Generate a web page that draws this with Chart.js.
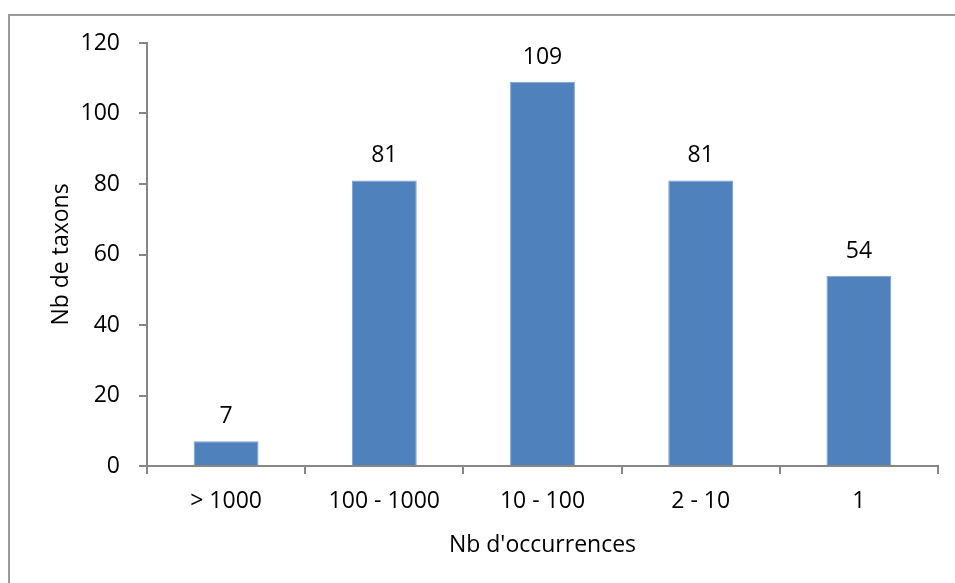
<!DOCTYPE html>
<html>
<head>
<meta charset="utf-8">
<script src="https://cdn.jsdelivr.net/npm/chart.js@4/dist/chart.umd.min.js"></script>
<style>
  html, body { margin: 0; padding: 0; background: #fff; overflow: hidden; }
  #frame {
    position: absolute; left: 8px; top: 14px; width: 1000px; height: 700px;
    border-top: 2px solid #9a9a9a; border-left: 2px solid #9a9a9a;
  }
  #wrap { position: absolute; left: 0; top: 0; width: 955px; height: 583px; }
</style>
</head>
<body>
<div id="frame"></div>
<div id="wrap"><canvas id="occChart" width="955" height="583"></canvas></div>
<script>
// classes d'occurrences et nombre de taxons
const categories = ["> 1000", "100 - 1000", "10 - 100", "2 - 10", "1"];
const taxonCounts = [7, 81, 109, 81, 54];
const yTicks = [0, 20, 40, 60, 80, 100, 120];

const axisGrey = "#868686";
const fontSpec = { family: "'Open Sans', sans-serif", size: 23 };

// étiquettes de valeur au-dessus des barres
const valueLabels = {
  id: "valueLabels",
  afterDatasetsDraw(chart) {
    const ctx = chart.ctx;
    const meta = chart.getDatasetMeta(0);
    ctx.save();
    ctx.font = "23px 'Open Sans', sans-serif";
    ctx.fillStyle = "#000";
    ctx.textAlign = "center";
    ctx.textBaseline = "alphabetic";
    meta.data.forEach((bar, i) => {
      ctx.fillText(String(taxonCounts[i]), bar.x, bar.y - 18);
    });
    ctx.restore();
  },
};

const ctx = document.getElementById("occChart").getContext("2d");
new Chart(ctx, {
  type: "bar",
  data: {
    labels: categories,
    datasets: [
      {
        data: taxonCounts,
        backgroundColor: "#4f81bd",
        borderColor: "#79a0d1",
        borderWidth: 1,
        categoryPercentage: 1,
        barPercentage: 0.41,
      },
    ],
  },
  options: {
    responsive: false,
    animation: false,
    layout: { padding: { top: 43, right: 17, bottom: 0, left: 0 } },
    plugins: { legend: { display: false }, tooltip: { enabled: false } },
    scales: {
      x: {
        afterFit(scale) { scale.height = 117; },
        grid: {
          offset: true,
          drawOnChartArea: false,
          drawTicks: true,
          tickLength: 8,
          color: axisGrey,
          lineWidth: 2,
        },
        border: { color: axisGrey, width: 2 },
        ticks: { color: "#000", font: fontSpec, padding: 14, maxRotation: 0 },
        title: {
          display: true,
          text: "Nb d'occurrences",
          color: "#000",
          font: fontSpec,
          padding: { top: 0, bottom: 24 },
        },
      },
      y: {
        min: 0,
        max: 120,
        afterFit(scale) { scale.width = 147; },
        afterBuildTicks(scale) { scale.ticks = yTicks.map((v) => ({ value: v })); },
        grid: {
          drawOnChartArea: false,
          drawTicks: true,
          tickLength: 8,
          color: axisGrey,
          lineWidth: 2,
        },
        border: { color: axisGrey, width: 2 },
        ticks: { color: "#000", font: fontSpec, padding: 19 },
        title: {
          display: true,
          text: "Nb de taxons",
          color: "#000",
          font: fontSpec,
          padding: { top: 48, bottom: 0 },
        },
      },
    },
  },
  plugins: [valueLabels],
});
</script>
</body>
</html>
